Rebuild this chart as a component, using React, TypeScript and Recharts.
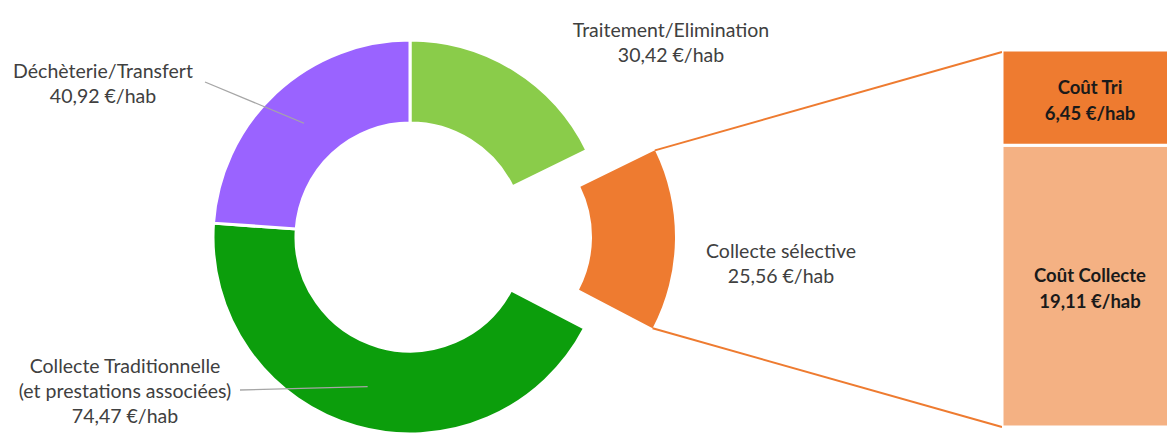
import React from 'react';
import { PieChart, Pie, Cell, BarChart, Bar, XAxis, YAxis, LabelList } from 'recharts';

// Répartition du coût par habitant (pie of bar)
const categories = [
  'Traitement/Elimination',
  'Collecte sélective',
  'Collecte Traditionnelle\n(et prestations associées)',
  'Déchèterie/Transfert'
];
const values = [30.42, 25.56, 74.47, 40.92];
const valueLabels = ['30,42 €/hab', '25,56 €/hab', '74,47 €/hab', '40,92 €/hab'];
const sliceColors = ['#8ACC4A', '#EE7B30', '#0C9E0C', '#9A63FF'];

// détail de la collecte sélective
const detailNames = ['Coût Collecte', 'Coût Tri'];
const detailValues = [19.11, 6.45];
const detailLabels = ['19,11 €/hab', '6,45 €/hab'];
const detailColors = ['#F4B183', '#EE7B30'];

const EXPLODED = 1; // index of the slice that is broken out into the bar

const W = 1167;
const H = 438;
const CX = 410;
const CY = 237;
const R_IN = 114;
const R_OUT = 197;
const EXPLODE_DX = 68;
const BAR_LEFT = 1002;
const BAR_TOP = 50;
const BAR_BOTTOM = 11;
const FONT = 'Lato, "Open Sans", sans-serif';

const pieData = categories.map((name, i) => ({ name, value: values[i], label: valueLabels[i] }));
const barData = [
  detailNames.reduce(
    (row, n, i) => ({ ...row, [n]: detailValues[i], [n + '_label']: detailLabels[i] }),
    { name: 'detail' } as Record<string, string | number>
  )
];

// where each slice label sits (text centre, first baseline) and whether it gets a leader line
const labelPos = [
  { x: 671, y: 37, line: null },
  { x: 781, y: 258, line: null },
  { x: 125, y: 373, line: { x: 240, y: 390 } },
  { x: 103, y: 78, line: { x: 205, y: 82 } }
];

const RAD = Math.PI / 180;

function renderSliceLabel(props: any) {
  const { index, cx, cy, midAngle, innerRadius, outerRadius } = props;
  const pos = labelPos[index];
  const lines = [...categories[index].split('\n'), valueLabels[index]];
  const r = (innerRadius + outerRadius) / 2;
  const ex = cx + r * Math.cos(-midAngle * RAD);
  const ey = cy + r * Math.sin(-midAngle * RAD);
  return (
    <g key={`lbl-${index}`}>
      {pos.line && (
        <line x1={pos.line.x} y1={pos.line.y} x2={ex} y2={ey} stroke="#A6A6A6" strokeWidth={1.3} />
      )}
      <text x={pos.x} y={pos.y} textAnchor="middle" fill="#404040" fontSize={19.5} fontFamily={FONT}>
        {lines.map((l, i) => (
          <tspan key={i} x={pos.x} dy={i === 0 ? 0 : 25}>
            {l}
          </tspan>
        ))}
      </text>
    </g>
  );
}

function renderBarLabel(name: string) {
  return (props: any) => {
    const { x, y, width, height, value } = props;
    const mx = x + width / 2 + 1;
    const my = y + height / 2;
    return (
      <text x={mx} y={my - 4} textAnchor="middle" fill="#1a1a1a" fontSize={18.5} fontWeight="bold" fontFamily={FONT}>
        <tspan x={mx}>{name}</tspan>
        <tspan x={mx} dy={26}>{value}</tspan>
      </text>
    );
  };
}

export default function App() {
  const total = values.reduce((a, b) => a + b, 0);
  const before = values.slice(0, EXPLODED).reduce((a, b) => a + b, 0);
  // clockwise from 12 o'clock, same as the Pie below
  const a0 = 90 - (before / total) * 360;
  const a1 = 90 - ((before + values[EXPLODED]) / total) * 360;
  const ecx = CX + EXPLODE_DX;
  const p0 = { x: ecx + R_OUT * Math.cos(a0 * RAD), y: CY - R_OUT * Math.sin(a0 * RAD) };
  const p1 = { x: ecx + R_OUT * Math.cos(a1 * RAD), y: CY - R_OUT * Math.sin(a1 * RAD) };

  return (
    <div style={{ position: 'absolute', left: 0, top: 0, width: W, height: H, overflow: 'hidden', background: '#fff' }}>
      <svg width={W} height={H} style={{ position: 'absolute', left: 0, top: 0 }}>
        <line x1={p0.x} y1={p0.y} x2={BAR_LEFT} y2={BAR_TOP + 2} stroke="#EE7B30" strokeWidth={2} />
        <line x1={p1.x} y1={p1.y} x2={BAR_LEFT} y2={H - BAR_BOTTOM} stroke="#EE7B30" strokeWidth={2} />
      </svg>
      <div style={{ position: 'absolute', left: 0, top: 0 }}>
        <PieChart width={W} height={H} margin={{ top: 0, right: 0, bottom: 0, left: 0 }}>
          <Pie
            data={pieData}
            dataKey="value"
            cx={CX}
            cy={CY}
            innerRadius={R_IN}
            outerRadius={R_OUT}
            startAngle={90}
            endAngle={-270}
            stroke="#fff"
            strokeWidth={3}
            label={renderSliceLabel}
            labelLine={false}
            isAnimationActive={false}
          >
            {pieData.map((d, i) => (
              <Cell
                key={d.name}
                fill={i === EXPLODED ? 'transparent' : sliceColors[i]}
                stroke={i === EXPLODED ? 'none' : '#fff'}
              />
            ))}
          </Pie>
          <Pie
            data={pieData}
            dataKey="value"
            cx={ecx}
            cy={CY}
            innerRadius={R_IN}
            outerRadius={R_OUT}
            startAngle={90}
            endAngle={-270}
            stroke="none"
            isAnimationActive={false}
          >
            {pieData.map((d, i) => (
              <Cell key={d.name} fill={i === EXPLODED ? sliceColors[i] : 'transparent'} stroke="none" />
            ))}
          </Pie>
        </PieChart>
      </div>
      <div style={{ position: 'absolute', left: BAR_LEFT, top: 0 }}>
        <BarChart
          width={174}
          height={H}
          data={barData}
          barCategoryGap={0}
          margin={{ top: BAR_TOP, right: 0, bottom: BAR_BOTTOM, left: 0 }}
        >
          <XAxis dataKey="name" hide />
          <YAxis hide domain={[0, detailValues.reduce((a, b) => a + b, 0)]} />
          {detailNames.map((n, i) => (
            <Bar
              key={n}
              dataKey={n}
              stackId="s"
              fill={detailColors[i]}
              stroke="#fff"
              strokeWidth={3}
              isAnimationActive={false}
            >
              <LabelList dataKey={n + '_label'} content={renderBarLabel(n)} />
            </Bar>
          ))}
        </BarChart>
      </div>
    </div>
  );
}
